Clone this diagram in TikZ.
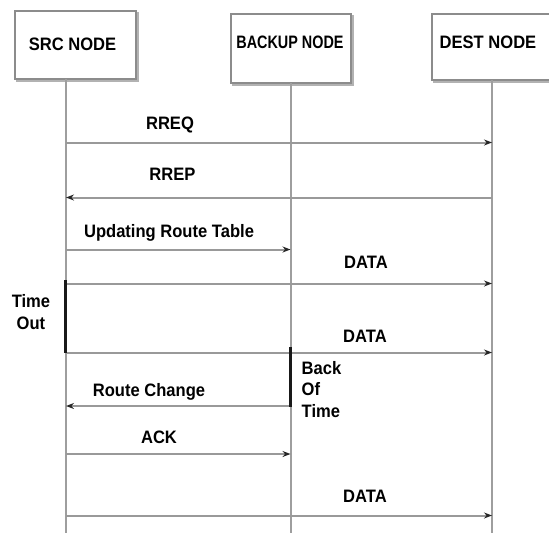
\documentclass[tikz,border=0pt]{standalone}
\usepackage{fontspec}
\setmainfont{Liberation Sans}[FakeStretch=0.92]
\newfontfamily\narrowfont{Liberation Sans}[FakeStretch=0.8]
\usetikzlibrary{arrows.meta}
\begin{document}
\begin{tikzpicture}[x=1pt,y=-1pt,
  hdr/.style={draw=black!45,line width=1.4pt,fill=white},
  lbl/.style={font=\fontsize{18}{22}\selectfont\bfseries,inner sep=0pt},
  life/.style={draw=black!38,line width=2pt},
  msg/.style={draw=black!40,line width=2pt,
    -{Stealth[length=8pt,width=6pt,black!85]}},
  bar/.style={draw=black!90,line width=3pt}]
\useasboundingbox (0,0) rectangle (549,533);
\clip (0,0) rectangle (549,533);
% header boxes
\draw[black!30,line width=2pt] (17,13) rectangle (138,81);
\draw[hdr] (15,11) rectangle (136,79);
\draw[black!30,line width=2pt] (233,16) rectangle (353,85);
\draw[hdr] (231,14) rectangle (351,83);
\draw[black!30,line width=2pt] (434,16) rectangle (570,82);
\draw[hdr] (432,14) rectangle (570,80);
\node[lbl] (src) at (72.5,44) {SRC NODE};
\node[lbl] (bak) at (290,42) {\narrowfont BACKUP NODE};
\node[lbl] (dst) at (488,42) {DEST NODE};
% lifelines
\coordinate (s0) at (66,79);  \coordinate (s9) at (66,533);
\coordinate (b0) at (290.5,83); \coordinate (b9) at (290.5,533);
\coordinate (d0) at (492,80); \coordinate (d9) at (492,533);
\draw[life] (s0) -- (s9);
\draw[life] (b0) -- (b9);
\draw[life] (d0) -- (d9);
% message anchor points
\foreach \n/\y in {1/142.5,2/197.5,3/249.5,4/283.5,5/352.5,6/406,7/454,8/515.5}{
  \coordinate (s\n) at (66,\y);
  \coordinate (b\n) at (290.5,\y);
  \coordinate (d\n) at (492,\y);
}
\draw[msg] (s1) -- (d1);
\draw[msg] (d2) -- (s2);
\draw[msg] (s3) -- (b3);
\draw[msg] (s4) -- (d4);
\draw[msg] (s5) -- (d5);
\draw[msg] (b6) -- (s6);
\draw[msg] (s7) -- (b7);
\draw[msg] (s8) -- (d8);
% labels
\node[lbl] (l1) at (170,125) {RREQ};
\node[lbl] (l2) at (172.5,174) {RREP};
\node[lbl] (l3) at (169,233) {Updating Route Table};
\node[lbl] (l4) at (366,262) {DATA};
\node[lbl] (l5) at (365,336) {DATA};
\node[lbl] (l6) at (149,392) {Route Change};
\node[lbl] (l7) at (159,437.5) {ACK};
\node[lbl] (l8) at (365,496) {DATA};
% timeout bars
\coordinate (t0) at (65,280); \coordinate (t1) at (65,353);
\draw[bar] (t0) -- (t1);
\node[lbl,align=center] (to) at (31,312) {Time\\Out};
\coordinate (k0) at (290.5,347); \coordinate (k1) at (290.5,407);
\draw[bar] (k0) -- (k1);
\node[lbl,align=left,anchor=north west,font=\fontsize{18}{21.5}\selectfont\bfseries] (bt) at (301.5,361) {Back\\Of\\Time};
\end{tikzpicture}
\end{document}
